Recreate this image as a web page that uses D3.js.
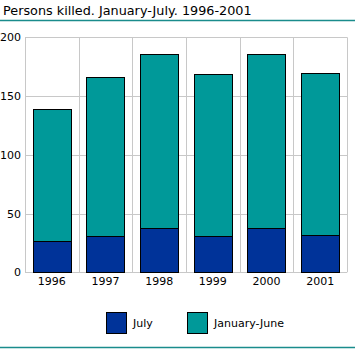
<!DOCTYPE html>
<html><head><meta charset="utf-8">
<script src="https://cdn.jsdelivr.net/npm/d3@7"></script>
<style>body{margin:0;background:#fff}svg{display:block}text{font-family:"DejaVu Sans",sans-serif}</style>
</head><body><svg id="c" width="355" height="349"></svg>
<script>
const years = ["1996","1997","1998","1999","2000","2001"];
const july = [27, 31, 38, 31, 38, 32];
const janJune = [112, 135, 148, 138, 148, 138];
const seriesNames = ["July", "January-June"];
const seriesColors = ["#003399", "#009999"];
const yTicks = [0, 50, 100, 150, 200];

const svg = d3.select("#c");
const m = {l:25, r:347, t:37.3, b:272.3};
const x = d3.scaleBand().domain(years).range([m.l, m.r]).paddingInner(0.29).paddingOuter(0.145);
const y = d3.scaleLinear().domain([0,200]).range([m.b, m.t]);

svg.append("text").attr("x",3).attr("y",15).attr("font-size",12.8).attr("fill","#000").text("Persons killed. January-July. 1996-2001");
svg.append("line").attr("x1",0).attr("x2",355).attr("y1",20.5).attr("y2",20.5).attr("stroke","#1a8c8c").attr("stroke-width",1.5);
svg.append("line").attr("x1",0).attr("x2",355).attr("y1",347.5).attr("y2",347.5).attr("stroke","#1a8c8c").attr("stroke-width",1.5);

const g = svg.append("g");
yTicks.forEach(t=>{
  g.append("line").attr("x1",m.l).attr("x2",m.r).attr("y1",Math.round(y(t))+0.5).attr("y2",Math.round(y(t))+0.5).attr("stroke","#c8c8c8");
});
const step = x.step();
d3.range(years.length+1).forEach(i=>{
  const xx = Math.round(m.l + i*step)+0.5;
  g.append("line").attr("x1",xx).attr("x2",xx).attr("y1",y(200)).attr("y2",y(0)).attr("stroke","#c8c8c8");
});

const data = years.map((yr,i)=>({year:yr, July:july[i], "January-June":janJune[i]}));
const stack = d3.stack().keys(seriesNames)(data);
stack.forEach((s,si)=>{
  g.selectAll(null).data(s).enter().append("rect")
    .attr("x",d=>Math.round(x(d.data.year))+0.5)
    .attr("width",Math.round(x.bandwidth()))
    .attr("y",d=>Math.round(y(d[1]))+0.5)
    .attr("height",d=>Math.round(y(d[0]))-Math.round(y(d[1])))
    .attr("fill",seriesColors[si]).attr("stroke","#000").attr("stroke-width",1);
});

const yAxis = d3.axisLeft(y).tickValues(yTicks).tickSize(0).tickPadding(4);
const ya = svg.append("g").attr("transform",`translate(${m.l},0)`).call(yAxis);
ya.select(".domain").remove();
ya.selectAll("text").attr("font-size",11).attr("fill","#000").style("font-family","'DejaVu Sans',sans-serif");

const xAxis = d3.axisBottom(x).tickSize(0).tickPadding(5);
const xa = svg.append("g").attr("transform",`translate(0,${m.b})`).call(xAxis);
xa.select(".domain").remove();
xa.selectAll("text").attr("font-size",11).attr("fill","#000").style("font-family","'DejaVu Sans',sans-serif");

const legX = [106, 187];
seriesNames.forEach((n,i)=>{
  svg.append("rect").attr("x",legX[i]+0.5).attr("y",312.5).attr("width",20).attr("height",21).attr("fill",seriesColors[i]).attr("stroke","#000");
  svg.append("text").attr("x",legX[i]+27).attr("y",327).attr("font-size",11).attr("fill","#000").text(n);
});
</script></body></html>
